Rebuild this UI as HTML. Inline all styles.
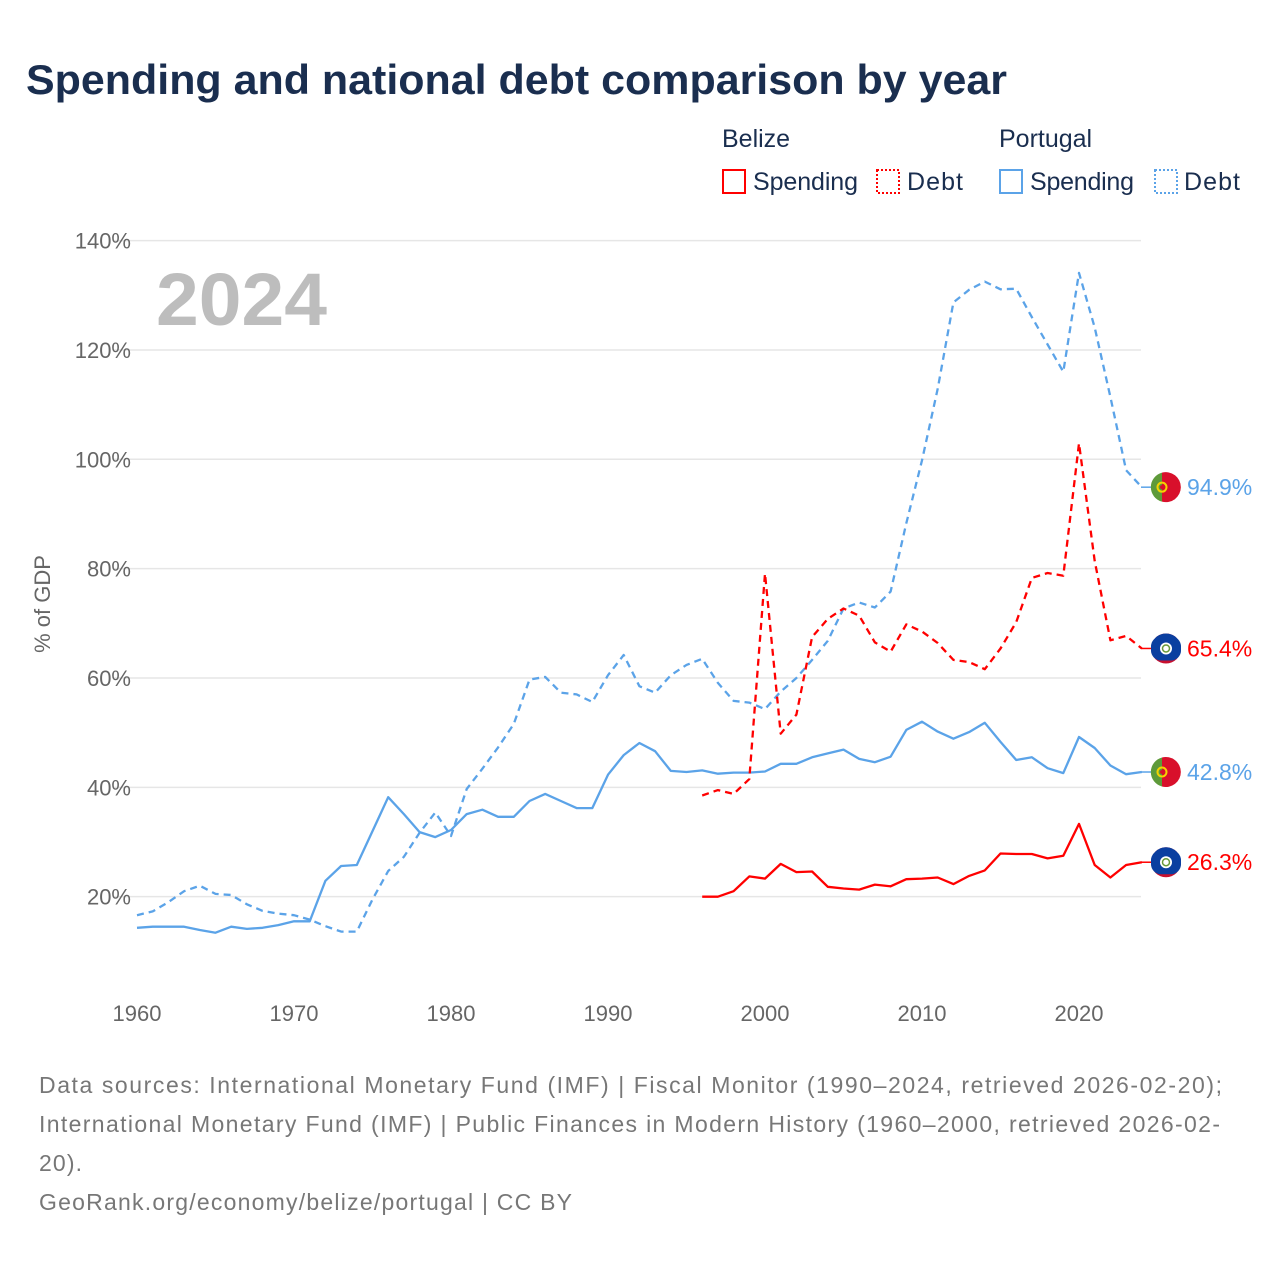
<!DOCTYPE html>
<html><head><meta charset="utf-8"><style>
body{margin:0;background:#fff;width:1280px;height:1280px;overflow:hidden;font-family:"Liberation Sans",sans-serif}
svg text{font-family:"Liberation Sans",sans-serif}
</style></head><body>
<svg id="chart" width="1280" height="1280" xmlns="http://www.w3.org/2000/svg">
<text x="26" y="94" font-size="42" font-weight="bold" fill="#1a2e4f" textLength="981" lengthAdjust="spacingAndGlyphs">Spending and national debt comparison by year</text>
<g font-size="25" fill="#1a2e4f">
<text x="722" y="147">Belize</text>
<text x="999" y="147">Portugal</text>
<g><rect x="723" y="170" width="22" height="23" fill="none" stroke="#f00" stroke-width="2"/><text x="753" y="190" textLength="105">Spending</text></g>
<g><rect x="877" y="170" width="22" height="23" fill="none" stroke="#f00" stroke-width="2" stroke-dasharray="2,2"/><text x="907" y="190" textLength="56">Debt</text></g>
<g><rect x="1000" y="170" width="22" height="23" fill="none" stroke="#5ba3e8" stroke-width="2"/><text x="1030" y="190" textLength="104">Spending</text></g>
<g><rect x="1155" y="170" width="22" height="23" fill="none" stroke="#5ba3e8" stroke-width="2" stroke-dasharray="2,2"/><text x="1184" y="190" textLength="56">Debt</text></g>
</g>
<text x="156" y="325" font-size="74" font-weight="bold" fill="#bdbdbd" textLength="171" lengthAdjust="spacingAndGlyphs">2024</text>
<text transform="translate(50,604) rotate(-90)" text-anchor="middle" font-size="22" fill="#666">% of GDP</text>
<g id="grid"></g><g id="axes"></g><g id="series"></g><g id="ends"></g>
<g font-size="23" fill="#777">
<text x="39" y="1093" textLength="1183">Data sources: International Monetary Fund (IMF) | Fiscal Monitor (1990–2024, retrieved 2026-02-20);</text>
<text x="39" y="1132" textLength="1181">International Monetary Fund (IMF) | Public Finances in Modern History (1960–2000, retrieved 2026-02-</text>
<text x="39" y="1171" textLength="43">20).</text>
<text x="39" y="1210" textLength="533">GeoRank.org/economy/belize/portugal | CC BY</text>
</g>
</svg>
<script>
const ptYears=[];for(let y=1960;y<=2024;y++)ptYears.push(y);
const bzYears=[];for(let y=1996;y<=2024;y++)bzYears.push(y);
const ptSpending=[14.3,14.5,14.5,14.5,13.9,13.4,14.5,14.1,14.3,14.8,15.5,15.5,22.9,25.6,25.8,32,38.2,35.1,31.8,30.9,32.2,35.1,35.9,34.6,34.6,37.5,38.8,37.5,36.2,36.2,42.3,45.9,48.1,46.6,43,42.8,43.1,42.5,42.7,42.7,42.9,44.3,44.3,45.5,46.2,46.9,45.2,44.6,45.6,50.5,52,50.2,48.9,50.1,51.8,48.3,45,45.5,43.5,42.6,49.2,47.2,44,42.4,42.8];
const ptDebt=[16.6,17.3,19,21,22,20.5,20.3,18.6,17.4,16.9,16.6,15.8,14.6,13.6,13.6,19.5,24.7,27.3,31.7,35.4,31.1,39.7,43.4,47.3,51.6,59.7,60.2,57.3,57,55.6,60.5,64.2,58.5,57.3,60.5,62.4,63.5,59.1,55.8,55.5,54.3,57.5,60,63.3,66.8,72.7,73.8,72.9,75.8,88.3,99.8,112.9,128.7,131,132.5,131.1,131.2,126,121,116,134.1,124.1,111.4,98,94.9];
const bzSpending=[20,20,21,23.7,23.3,26,24.5,24.6,21.8,21.5,21.3,22.2,21.9,23.2,23.3,23.5,22.3,23.8,24.8,27.9,27.8,27.8,27,27.5,33.3,25.8,23.5,25.8,26.3];
const bzDebt=[38.5,39.5,38.8,41.5,79.1,49.8,53.3,67.5,70.8,72.7,71.4,66.5,64.8,69.8,68.5,66.4,63.3,62.9,61.6,65.4,70.2,78.3,79.2,78.7,102.9,81.4,66.9,67.7,65.4];
const yTicks=[20,40,60,80,100,120,140];
const xTicks=[1960,1970,1980,1990,2000,2010,2020];
const NS="http://www.w3.org/2000/svg";
const X=y=>137+(y-1960)*15.7;
const Y=v=>1006-v*5.467;
function mk(tag,attrs,parent){const e=document.createElementNS(NS,tag);for(const k in attrs)e.setAttribute(k,attrs[k]);parent.appendChild(e);return e;}
const grid=document.getElementById('grid'),axes=document.getElementById('axes'),series=document.getElementById('series'),ends=document.getElementById('ends');
yTicks.forEach(t=>{
 const l=mk('line',{x1:113,x2:1141,y1:Y(t),y2:Y(t),stroke:'#e6e6e6','stroke-width':1.5},grid);
 
 
 const tx=mk('text',{x:131,y:Y(t)+8,'text-anchor':'end','font-size':22,fill:'#666'},axes);tx.textContent=t+'%';
 
 
});
xTicks.forEach(t=>{
 const tx=mk('text',{x:X(t),y:1021,'text-anchor':'middle','font-size':22,fill:'#666'},axes);tx.textContent=t;
 
 
});
function line(years,vals,color,dash,name){
 const d=vals.map((v,i)=>(i?'L':'M')+X(years[i]).toFixed(1)+','+Y(v).toFixed(1)).join(' ');
 const p=mk('path',{d:d,fill:'none',stroke:color,'stroke-width':2.3,'stroke-linejoin':'round'},series);
 if(dash)p.setAttribute('stroke-dasharray','7,5');
 
 
}
line(ptYears,ptDebt,'#5ba3e8',true,'portugal-debt-line');
line(ptYears,ptSpending,'#5ba3e8',false,'portugal-spending-line');
line(bzYears,bzDebt,'#f00',true,'belize-debt-line');
line(bzYears,bzSpending,'#f00',false,'belize-spending-line');
function endLabel(vals,color,country,name){
 const v=vals[vals.length-1],cy=Y(v),cx=1166;
 mk('line',{x1:1141,x2:1153,y1:cy,y2:cy,stroke:color,'stroke-width':1.5},ends);
 const g=mk('g',{},ends);
 
 
 if(country==='pt'){
  mk('path',{d:`M${cx-4},${cy-14.5} A15,15 0 0 0 ${cx-4},${cy+14.5} Z`,fill:'#5e9a3a'},g);
  mk('path',{d:`M${cx-4},${cy-14.5} A15,15 0 1 1 ${cx-4},${cy+14.5} Z`,fill:'#d8102b'},g);
  mk('circle',{cx:cx-4,cy:cy,r:4.5,fill:'none',stroke:'#f5d400','stroke-width':2},g);
  mk('circle',{cx:cx-4,cy:cy,r:2,fill:'#d8102b'},g);
 }else{
  mk('circle',{cx:cx,cy:cy,r:15,fill:'#c8102e'},g);
  mk('path',{d:`M${cx-15},${cy} A15,15 0 0 1 ${cx+15},${cy} Z`,fill:'#0a3fa0'},g);
  mk('rect',{x:cx-15,y:cy-12,width:30,height:24,fill:'#0a3fa0',rx:10},g);
  mk('circle',{cx:cx,cy:cy,r:6,fill:'#fff'},g);
  mk('circle',{cx:cx,cy:cy,r:3.5,fill:'none',stroke:'#6a9a3a','stroke-width':1.5},g);
 }
 const t=mk('text',{x:1187,y:cy+8,'font-size':23,fill:color},ends);t.textContent=v.toFixed(1)+'%';
 
 
}
endLabel(ptDebt,'#5ba3e8','pt','portugal-debt');
endLabel(bzDebt,'#f00','bz','belize-debt');
endLabel(ptSpending,'#5ba3e8','pt','portugal-spending');
endLabel(bzSpending,'#f00','bz','belize-spending');
</script>
</body></html>
